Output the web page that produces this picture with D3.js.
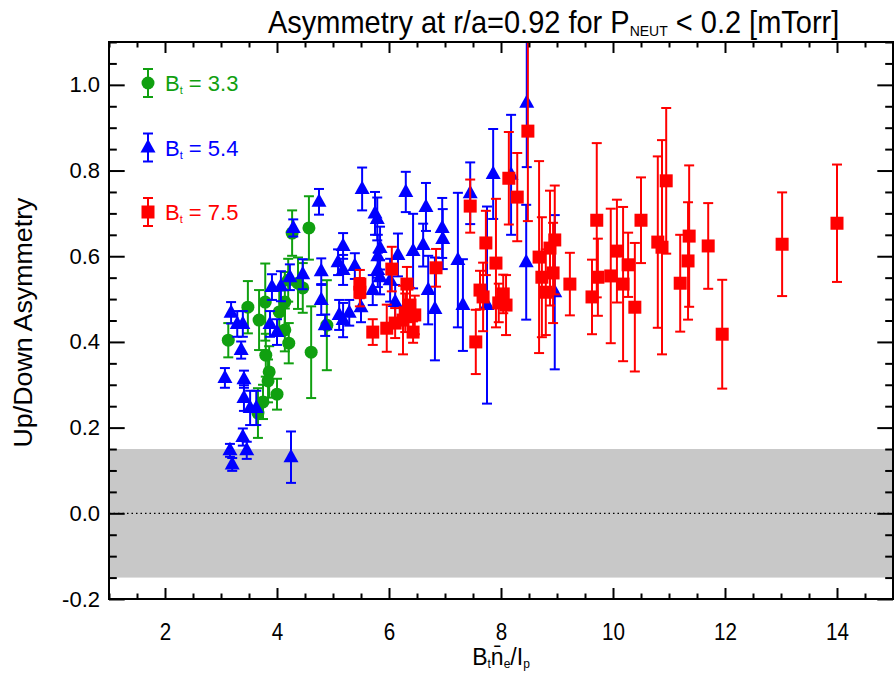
<!DOCTYPE html>
<html>
<head>
<meta charset="utf-8">
<script src="https://cdn.jsdelivr.net/npm/d3@7"></script>
<style>
  body { margin: 0; background: #fff; }
  svg { font-family: "Liberation Sans", Arial, sans-serif; }
</style>
</head>
<body>
<div id="chart"></div>
<script>
// [x, asymmetry, error]
const bt33 = [
  [3.13, 0.404, 0.04], [3.48, 0.481, 0.061], [3.68, 0.451, 0.07], [3.79, 0.493, 0.09],
  [3.80, 0.369, 0.05], [3.86, 0.330, 0.06], [3.84, 0.309, 0.05], [4.00, 0.278, 0.036],
  [3.75, 0.260, 0.04], [3.66, 0.234, 0.058], [4.14, 0.493, 0.07], [4.04, 0.470, 0.05],
  [4.14, 0.428, 0.05], [4.21, 0.397, 0.047], [4.27, 0.654, 0.053], [4.57, 0.666, 0.074],
  [4.46, 0.526, 0.058], [4.61, 0.376, 0.107], [4.89, 0.439, 0.105], [4.20, 0.544, 0.05],
  [4.375, 0.537, 0.06]
];
const bt54 = [
  [3.07, 0.316, 0.023], [3.18, 0.468, 0.025], [3.29, 0.442, 0.03], [3.39, 0.442, 0.03],
  [3.36, 0.381, 0.02], [3.41, 0.313, 0.02], [3.41, 0.269, 0.03], [3.52, 0.246, 0.04],
  [3.63, 0.246, 0.04], [3.39, 0.178, 0.02], [3.16, 0.147, 0.015], [3.46, 0.147, 0.02],
  [3.20, 0.114, 0.015], [4.25, 0.131, 0.06], [3.875, 0.442, 0.03], [4.00, 0.423, 0.03],
  [3.91, 0.528, 0.03], [4.07, 0.530, 0.035], [4.23, 0.551, 0.03], [4.46, 0.558, 0.035],
  [4.29, 0.666, 0.02], [4.75, 0.727, 0.03], [4.79, 0.565, 0.03], [4.79, 0.498, 0.035],
  [4.86, 0.439, 0.025], [5.09, 0.586, 0.03], [5.18, 0.624, 0.03], [5.18, 0.568, 0.035],
  [5.39, 0.577, 0.03], [5.11, 0.463, 0.035], [5.18, 0.451, 0.04], [5.29, 0.468, 0.03],
  [5.50, 0.481, 0.035], [5.52, 0.757, 0.05], [5.75, 0.700, 0.05], [5.79, 0.687, 0.05],
  [5.71, 0.521, 0.035], [5.84, 0.619, 0.05], [5.80, 0.600, 0.05], [5.80, 0.568, 0.04],
  [5.84, 0.551, 0.04], [6.02, 0.544, 0.05], [6.11, 0.493, 0.04], [6.16, 0.603, 0.05],
  [6.30, 0.750, 0.047], [6.43, 0.612, 0.087], [6.61, 0.626, 0.05], [6.66, 0.715, 0.056],
  [6.70, 0.521, 0.08], [6.82, 0.477, 0.12], [6.95, 0.666, 0.07], [6.96, 0.640, 0.07],
  [7.23, 0.591, 0.157], [7.32, 0.486, 0.107], [7.45, 0.747, 0.072], [7.75, 0.486, 0.23],
  [7.86, 0.792, 0.105], [8.18, 0.790, 0.14], [8.46, 0.958, 0.15], [8.45, 0.586, 0.134],
  [8.96, 0.516, 0.18]
];
const bt75 = [
  [5.48, 0.535, 0.033], [5.48, 0.516, 0.033], [5.71, 0.423, 0.03], [5.96, 0.432, 0.055],
  [6.05, 0.570, 0.052], [6.11, 0.444, 0.035], [6.25, 0.451, 0.08], [6.29, 0.468, 0.045],
  [6.32, 0.535, 0.04], [6.375, 0.486, 0.04], [6.43, 0.423, 0.025], [6.46, 0.463, 0.045],
  [6.84, 0.573, 0.044], [7.45, 0.717, 0.062], [7.55, 0.400, 0.075], [7.625, 0.521, 0.045],
  [7.68, 0.505, 0.08], [7.73, 0.631, 0.075], [7.91, 0.584, 0.15], [7.96, 0.491, 0.045],
  [8.04, 0.512, 0.045], [8.09, 0.486, 0.07], [8.14, 0.782, 0.108], [8.29, 0.738, 0.103],
  [8.48, 0.892, 0.21], [8.68, 0.598, 0.224], [8.73, 0.551, 0.14], [8.80, 0.516, 0.10],
  [8.875, 0.619, 0.134], [8.96, 0.638, 0.127], [8.93, 0.561, 0.117], [9.23, 0.535, 0.073],
  [9.625, 0.505, 0.087], [9.71, 0.684, 0.18], [9.73, 0.551, 0.09], [9.96, 0.554, 0.157],
  [10.07, 0.612, 0.12], [10.18, 0.535, 0.18], [10.27, 0.580, 0.075], [10.39, 0.481, 0.15],
  [10.5, 0.684, 0.10], [10.80, 0.633, 0.20], [10.875, 0.621, 0.25], [10.95, 0.776, 0.17],
  [11.2, 0.537, 0.113], [11.34, 0.589, 0.137], [11.36, 0.647, 0.165], [11.7, 0.624, 0.10],
  [11.95, 0.418, 0.127], [13.02, 0.628, 0.121], [14.0, 0.677, 0.137]
];

const btLabels = ["3.3", "5.4", "7.5"];
const xTicks = [2, 4, 6, 8, 10, 12, 14];
const yTicks = [-0.2, 0.0, 0.2, 0.4, 0.6, 0.8, 1.0];
const band = [-0.15, 0.15];

const W = 894, H = 675;
const L = 109, R = 893, T = 42, B = 599;
const green = "#10a010", blue = "#0000ff", red = "#ff0000";

const svg = d3.select("#chart").append("svg")
  .attr("width", W).attr("height", H);

const x = d3.scaleLinear().domain([1, 15]).range([L, R]);
const y = d3.scaleLinear().domain([-0.2, 1.1]).range([B, T]);

svg.append("defs").append("clipPath").attr("id", "plot")
  .append("rect").attr("x", L).attr("y", T).attr("width", R - L).attr("height", B - T);

// grey band and zero line
svg.append("rect")
  .attr("x", L).attr("width", R - L)
  .attr("y", y(band[1])).attr("height", y(band[0]) - y(band[1]))
  .attr("fill", "#c8c8c8");

svg.append("line")
  .attr("x1", L).attr("x2", R)
  .attr("y1", y(0)).attr("y2", y(0))
  .attr("stroke", "#000").attr("stroke-width", 1.3)
  .attr("stroke-dasharray", "1.5,3");

const marks = svg.append("g").attr("clip-path", "url(#plot)");

function shape(sel, kind, color) {
  if (kind === "circle") {
    sel.append("circle").attr("r", 6.5).attr("fill", color);
  } else if (kind === "triangle") {
    sel.append("path").attr("d", "M0,-8.5L7.5,5L-7.5,5Z").attr("fill", color);
  } else {
    sel.append("rect").attr("x", -6.5).attr("y", -6.5)
      .attr("width", 13).attr("height", 13).attr("fill", color);
  }
}

function drawSeries(data, color, kind) {
  const g = marks.append("g");
  const pts = g.selectAll("g").data(data).enter().append("g");
  pts.append("line")
    .attr("x1", d => x(d[0])).attr("x2", d => x(d[0]))
    .attr("y1", d => y(d[1] - d[2])).attr("y2", d => y(d[1] + d[2]))
    .attr("stroke", color).attr("stroke-width", 2);
  pts.append("line")
    .attr("x1", d => x(d[0]) - 5).attr("x2", d => x(d[0]) + 5)
    .attr("y1", d => y(d[1] + d[2])).attr("y2", d => y(d[1] + d[2]))
    .attr("stroke", color).attr("stroke-width", 2);
  pts.append("line")
    .attr("x1", d => x(d[0]) - 5).attr("x2", d => x(d[0]) + 5)
    .attr("y1", d => y(d[1] - d[2])).attr("y2", d => y(d[1] - d[2]))
    .attr("stroke", color).attr("stroke-width", 2);
  const m = g.selectAll("g.m").data(data).enter().append("g")
    .attr("class", "m")
    .attr("transform", d => `translate(${x(d[0])},${y(d[1])})`);
  shape(m, kind, color);
}

drawSeries(bt33, green, "circle");
drawSeries(bt54, blue, "triangle");
drawSeries(bt75, red, "square");

// axes
const xMinor = d3.range(1, 15.001, 0.5).filter(v => v % 2 !== 0);
const yMinor = d3.range(-20, 111, 5).map(v => v / 100).filter(v => Math.round(v * 100) % 20 !== 0);
const yFmt = d => d3.format(".1f")(d).replace("\u2212", "-");

function styleAxis(g) {
  g.select(".domain").remove();
  g.selectAll("line").attr("stroke", "#000").attr("stroke-width", 2);
  g.selectAll("text").attr("font-size", 22).attr("fill", "#000");
}

svg.append("g").attr("transform", `translate(0,${B})`)
  .call(d3.axisBottom(x).tickValues(xTicks).tickSize(-11).tickPadding(24).tickFormat(d3.format("d")))
  .call(styleAxis)
  .call(g => g.selectAll("text").attr("font-size", 24).attr("transform", "scale(0.86,1)"));
svg.append("g").attr("transform", `translate(0,${B})`)
  .call(d3.axisBottom(x).tickValues(xMinor).tickSize(-5.5).tickFormat(""))
  .call(styleAxis);
svg.append("g").attr("transform", `translate(0,${T})`)
  .call(d3.axisTop(x).tickValues(xTicks).tickSize(-11).tickFormat(""))
  .call(styleAxis);
svg.append("g").attr("transform", `translate(0,${T})`)
  .call(d3.axisTop(x).tickValues(xMinor).tickSize(-5.5).tickFormat(""))
  .call(styleAxis);

svg.append("g").attr("transform", `translate(${L},0)`)
  .call(d3.axisLeft(y).tickValues(yTicks).tickSize(-15.7).tickPadding(9).tickFormat(yFmt))
  .call(styleAxis);
svg.append("g").attr("transform", `translate(${L},0)`)
  .call(d3.axisLeft(y).tickValues(yMinor).tickSize(-7.8).tickFormat(""))
  .call(styleAxis);
svg.append("g").attr("transform", `translate(${R},0)`)
  .call(d3.axisRight(y).tickValues(yTicks).tickSize(-15.7).tickFormat(""))
  .call(styleAxis);
svg.append("g").attr("transform", `translate(${R},0)`)
  .call(d3.axisRight(y).tickValues(yMinor).tickSize(-7.8).tickFormat(""))
  .call(styleAxis);

svg.append("rect")
  .attr("x", L).attr("y", T).attr("width", R - L).attr("height", B - T)
  .attr("fill", "none").attr("stroke", "#000").attr("stroke-width", 2);

// title (slightly stretched vertically, like the narrow plotting font)
const title = svg.append("text")
  .attr("transform", "translate(268,33) scale(1,1.1)")
  .attr("font-size", 29).attr("fill", "#000");
title.append("tspan").text("Asymmetry at r/a=0.92 for P");
title.append("tspan").attr("font-size", 14).attr("dy", 3).text("NEUT");
title.append("tspan").attr("dy", -3).text(" < 0.2 [mTorr]");

// axis titles
const xt = svg.append("text")
  .attr("x", (L + R) / 2).attr("y", 665)
  .attr("text-anchor", "middle").attr("font-size", 23).attr("fill", "#000");
xt.append("tspan").text("B");
xt.append("tspan").attr("font-size", 12).attr("dy", 3).text("t");
xt.append("tspan").attr("dy", -3).text("n\u0304");
xt.append("tspan").attr("font-size", 12).attr("dy", 3).text("e");
xt.append("tspan").attr("dy", -3).text("/I");
xt.append("tspan").attr("font-size", 12).attr("dy", 3).text("p");

svg.append("text")
  .attr("transform", `translate(32,${(T + B) / 2 + 2}) rotate(-90)`)
  .attr("text-anchor", "middle").attr("font-size", 25).attr("fill", "#000")
  .attr("textLength", 250).attr("lengthAdjust", "spacingAndGlyphs")
  .text("Up/Down Asymmetry");

// legend
const legend = [
  { label: btLabels[0], color: green, kind: "circle" },
  { label: btLabels[1], color: blue, kind: "triangle" },
  { label: btLabels[2], color: red, kind: "square" }
];
legend.forEach((d, i) => {
  const ly = 83 + i * 64.5;
  const g = svg.append("g").attr("transform", `translate(148,${ly})`);
  g.append("line").attr("y1", -14).attr("y2", 14).attr("stroke", d.color).attr("stroke-width", 2);
  g.append("line").attr("x1", -5).attr("x2", 5).attr("y1", -14).attr("y2", -14).attr("stroke", d.color).attr("stroke-width", 2);
  g.append("line").attr("x1", -5).attr("x2", 5).attr("y1", 14).attr("y2", 14).attr("stroke", d.color).attr("stroke-width", 2);
  shape(g, d.kind, d.color);
  const t = g.append("text").attr("x", 17).attr("y", 8)
    .attr("font-size", 22).attr("fill", d.color);
  t.append("tspan").text("B");
  t.append("tspan").attr("font-size", 11).attr("dy", 3).text("t");
  t.append("tspan").attr("dy", -3).text(" = " + d.label);
});
</script>
</body>
</html>
